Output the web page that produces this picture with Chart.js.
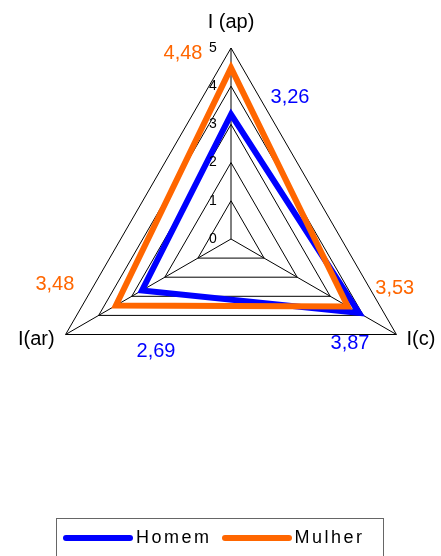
<!DOCTYPE html>
<html>
<head>
<meta charset="utf-8">
<script src="https://cdn.jsdelivr.net/npm/chart.js@4.4.1/dist/chart.umd.min.js"></script>
<style>
  body { margin: 0; background: #fff; font-family: "Liberation Sans", Arial, sans-serif; overflow: hidden; }
  #wrap { position: relative; width: 441px; height: 556px; overflow: hidden; }
  #legend {
    position: absolute; left: 56px; top: 518px; width: 328px; height: 38px;
    box-sizing: border-box; border: 1px solid #666; border-bottom: none;
    display: flex; align-items: center; padding-left: 6px;
  }
  .legend-item { display: flex; align-items: center; margin-right: 10px; }
  .legend-line { width: 70px; height: 6px; border-radius: 3px; margin-right: 3px; }
  .legend-text { font-size: 18px; letter-spacing: 2.5px; color: #000; }
</style>
</head>
<body>
<div id="wrap">
  <canvas id="radarChart" width="441" height="556"></canvas>
  <div id="legend"></div>
</div>
<script>
// chart data
const axisLabels = ['I (ap)', 'I(c)', 'I(ar)'];
const seriesNames = ['Homem', 'Mulher'];
const homemValues = [3.26, 3.87, 2.69];
const mulherValues = [4.48, 3.53, 3.48];
const tickValues = [0, 1, 2, 3, 4, 5];

const seriesColors = ['#0000ff', '#ff6600'];
const FONT = '"Liberation Sans", Arial, sans-serif';

// where each value label sits relative to its point (dx, dy)
const valueLabelOffsets = [
    [[59, -17], [-9, 31], [14, 61]],
    [[-48, -14], [47, -18], [-61, -21]]
];

function formatValue(v) {
    return v.toFixed(2).replace('.', ',');
}

// tick numbers, axis names and value labels
const radarText = {
    id: 'radarText',
    afterDraw(chart) {
        const scale = chart.scales.r;
        const ctx = chart.ctx;
        ctx.save();
        ctx.textBaseline = 'middle';

        // tick labels sit just left of the top axis
        ctx.fillStyle = '#000';
        ctx.font = '14px ' + FONT;
        ctx.textAlign = 'center';
        scale.ticks.forEach(tick => {
            const y = scale.yCenter - scale.getDistanceFromCenterForValue(tick.value);
            ctx.fillText(tick.label, scale.xCenter - 18, y);
        });

        // axis names
        ctx.font = '20px ' + FONT;
        chart.data.labels.forEach((name, i) => {
            const p = scale.getPointPosition(i, scale.drawingArea);
            if (Math.abs(p.x - scale.xCenter) < 1) {
                ctx.textAlign = 'center';
                ctx.fillText(name, p.x, p.y - 26);
            } else if (p.x < scale.xCenter) {
                ctx.textAlign = 'right';
                ctx.fillText(name, p.x - 11, p.y + 5);
            } else {
                ctx.textAlign = 'left';
                ctx.fillText(name, p.x + 10, p.y + 5);
            }
        });

        // value labels in series colour
        ctx.textAlign = 'center';
        chart.data.datasets.forEach((ds, di) => {
            const meta = chart.getDatasetMeta(di);
            ctx.fillStyle = ds.borderColor;
            meta.data.forEach((pt, i) => {
                const off = valueLabelOffsets[di][i];
                ctx.fillText(formatValue(ds.data[i]), pt.x + off[0], pt.y + off[1]);
            });
        });
        ctx.restore();
    }
};

const ctx = document.getElementById('radarChart').getContext('2d');
const radarChart = new Chart(ctx, {
    type: 'radar',
    data: {
        labels: axisLabels,
        datasets: [
            {
                label: seriesNames[0],
                data: homemValues,
                borderColor: seriesColors[0],
                backgroundColor: seriesColors[0],
                order: 1
            },
            {
                label: seriesNames[1],
                data: mulherValues,
                borderColor: seriesColors[1],
                backgroundColor: seriesColors[1],
                order: 0
            }
        ]
    },
    options: {
        responsive: false,
        animation: false,
        devicePixelRatio: 1,
        layout: {
            padding: { left: 40, right: 19, top: 0, bottom: 78 }
        },
        elements: {
            line: { borderWidth: 6, fill: false, tension: 0, borderJoinStyle: 'miter' },
            point: { radius: 0, hoverRadius: 0 }
        },
        plugins: {
            legend: { display: false },
            tooltip: { enabled: false }
        },
        scales: {
            r: {
                min: tickValues[0],
                max: tickValues[tickValues.length - 1],
                ticks: { stepSize: 1, display: false },
                grid: { circular: false, color: '#000', lineWidth: 1 },
                angleLines: { color: '#000', lineWidth: 1 },
                pointLabels: { display: false }
            }
        }
    },
    plugins: [radarText]
});

// html legend built from the datasets
const legendEl = document.getElementById('legend');
legendEl.innerHTML = radarChart.data.datasets.map(ds => `
    <div class="legend-item">
        <span class="legend-line" style="background:${ds.borderColor}"></span>
        <span class="legend-text">${ds.label}</span>
    </div>
`).join('');
</script>
</body>
</html>
